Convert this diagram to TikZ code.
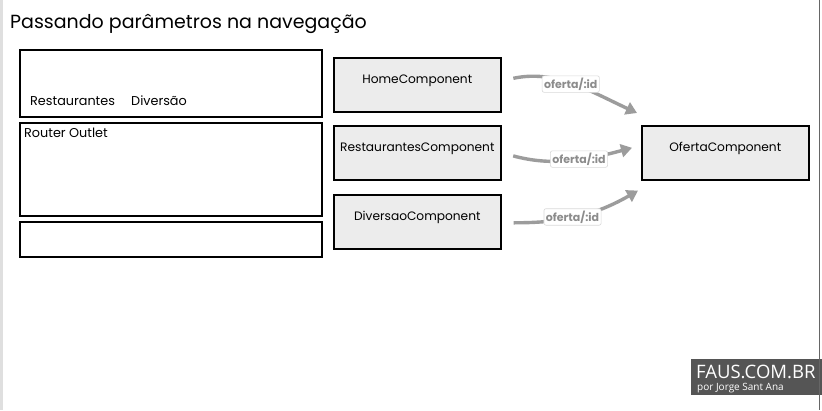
\documentclass[tikz,border=0pt]{standalone}
\usepackage{fontspec}
\setmainfont{Poppins}
\newfontfamily\markfont{Open Sans}
\usetikzlibrary{arrows.meta,positioning}
\definecolor{boxgray}{HTML}{ECECEC}
\definecolor{routegray}{HTML}{9C9C9C}
\definecolor{markgray}{HTML}{555555}

\begin{document}
\begin{tikzpicture}[x=1pt,y=1pt,
    panel/.style={draw,line width=1.6pt,fill=white,minimum width=302pt,inner sep=0pt},
    comp/.style={draw,line width=1.6pt,fill=boxgray,minimum width=167pt,minimum height=54pt,
                 font=\fontsize{12.2}{14}\selectfont,text depth=12pt},
    linktxt/.style={font=\fontsize{12.8}{14}\selectfont,anchor=base west,inner sep=0pt},
    route/.style={routegray,line width=3.4pt,-{Triangle[length=11pt,width=13pt]},shorten <=12pt},
    routelabel/.style={fill=white,draw=gray!30,line width=0.6pt,rounded corners=2pt,inner sep=2pt,
                 text=gray!90,font=\fontsize{11}{12}\selectfont\bfseries}]
    \clip (0,0) rectangle (822,-410);
    \fill[white] (0,0) rectangle (822,-410);
    \fill[gray!25] (0,0) rectangle (2.5,-410);
    % title
    \node[anchor=base west,font=\fontsize{19}{22}\selectfont,inner sep=0pt] (title) at (10,-28) {Passando parâmetros na navegação};
    % left side: app layout
    \node[panel,minimum height=67pt,anchor=north west] (nav) at (19,-49) {};
    \node[panel,minimum height=93pt,anchor=north west] (outlet) at (19,-122) {};
    \node[panel,minimum height=35pt,anchor=north west] (footer) at (19,-221) {};
    \node[linktxt] (linkrest) at (30,-105) {Restaurantes};
    \node[linktxt] (linkdiv) at (131,-105) {Diversão};
    \node[linktxt] (outlettxt) at (24,-137) {Router Outlet};
    % components
    \node[comp,anchor=north west] (home) at (333,-57) {HomeComponent};
    \node[comp,anchor=north west] (rest) at (333,-125) {RestaurantesComponent};
    \node[comp,anchor=north west] (div) at (333,-194) {DiversaoComponent};
    \node[comp,anchor=north west] (oferta) at (641,-125) {OfertaComponent};
    \coordinate (tip1) at ([shift={(-4,12)}]oferta.north west);
    \coordinate (tip2) at ([shift={(-9,5)}]oferta.west);
    \coordinate (tip3) at ([shift={(-3,-10)}]oferta.south west);
    % routes
    \draw[route] ([yshift=4pt]home.east) to[out=12,in=155] node[routelabel,pos=0.5] (lab1) {oferta/:id} (tip1);
    \draw[route] ([yshift=0pt]rest.east) to[out=-15,in=195] node[routelabel,pos=0.6] (lab2) {oferta/:id} (tip2);
    \draw[route] ([yshift=-1pt]div.east) to[out=0,in=210] node[routelabel,pos=0.5] (lab3) {oferta/:id} (tip3);
    % watermark
    \node[fill=markgray,minimum width=132pt,minimum height=36pt,anchor=north west,inner sep=0pt] (mark) at (691,-359) {};
    \node[text=white,anchor=base west,font=\markfont\fontsize{18.5}{20}\selectfont,inner sep=0pt] (marktop) at (696,-378) {FAUS.COM.BR};
    \node[text=white,anchor=base west,font=\markfont\fontsize{10}{11}\selectfont,inner sep=0pt] (markbot) at (697,-390) {por Jorge Sant Ana};
    \draw[gray!80!black,line width=1pt] (819.5,0) -- (819.5,-410);
\end{tikzpicture}
\end{document}
